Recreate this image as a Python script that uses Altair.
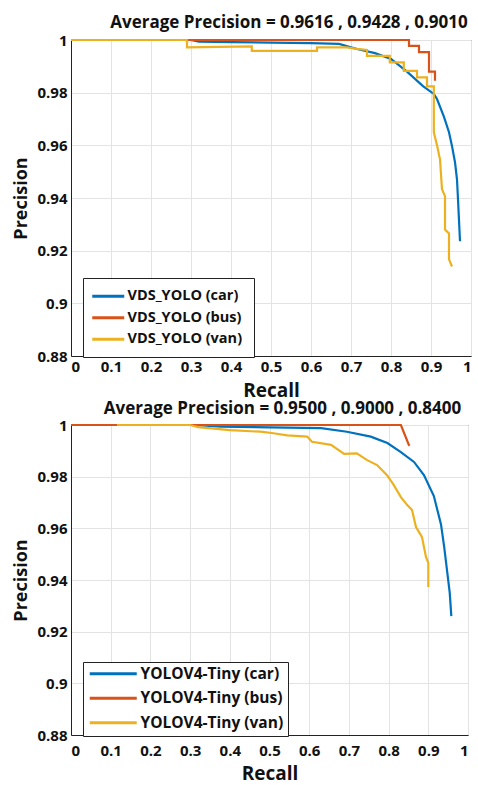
import altair as alt
import pandas as pd

FONT = "Open Sans"
COLORS = ["#0072BD", "#D95319", "#EDB120"]

# ---------------- top panel (VDS_YOLO) ----------------
top_names = ["VDS_YOLO (car)", "VDS_YOLO (bus)", "VDS_YOLO (van)"]
top_title = "Average Precision = 0.9616 , 0.9428 , 0.9010"

top_car_recall = [0.0, 0.30, 0.32, 0.40, 0.50, 0.60, 0.67, 0.715, 0.76, 0.80, 0.84, 0.88,
                  0.907, 0.915, 0.932, 0.945, 0.9525, 0.96, 0.965, 0.9675, 0.9725]
top_car_prec = [1.0, 1.0, 0.9994, 0.9992, 0.9990, 0.9988, 0.9985, 0.9966, 0.9950, 0.9928, 0.9880, 0.9825,
                0.9795, 0.9776, 0.9710, 0.9650, 0.9597, 0.9536, 0.9470, 0.9395, 0.9236]

top_bus_recall = [0.0, 0.845, 0.845, 0.87, 0.87, 0.895, 0.895, 0.91, 0.91]
top_bus_prec = [1.0, 1.0, 0.9978, 0.9978, 0.9954, 0.9954, 0.9880, 0.9880, 0.9845]

top_van_recall = [0.0, 0.29, 0.29, 0.452, 0.452, 0.615, 0.615, 0.69, 0.715, 0.74, 0.74, 0.797, 0.797,
                  0.832, 0.832, 0.865, 0.865, 0.89, 0.89, 0.907, 0.907, 0.915, 0.9225, 0.9275,
                  0.935, 0.935, 0.945, 0.945, 0.9525]
top_van_prec = [1.0, 1.0, 0.9972, 0.9976, 0.9959, 0.9959, 0.9972, 0.9972, 0.9966, 0.9962, 0.9940, 0.9940, 0.9915,
                0.9915, 0.9883, 0.9883, 0.9858, 0.9858, 0.9824, 0.9824, 0.9650, 0.9600, 0.9547, 0.9433,
                0.9407, 0.9280, 0.9265, 0.9167, 0.9140]

# ---------------- bottom panel (YOLOV4-Tiny) ----------------
bot_names = ["YOLOV4-Tiny (car)", "YOLOV4-Tiny (bus)", "YOLOV4-Tiny (van)"]
bot_title = "Average Precision =  0.9500 , 0.9000 , 0.8400"

bot_car_recall = [0.0, 0.31, 0.378, 0.50, 0.63, 0.695, 0.755, 0.797, 0.83, 0.864, 0.889, 0.914,
                  0.932, 0.94, 0.948, 0.954, 0.958]
bot_car_prec = [1.0, 1.0, 0.9994, 0.9991, 0.9988, 0.9974, 0.9955, 0.9930, 0.9896, 0.9857, 0.9806, 0.9725,
                0.9615, 0.9528, 0.9427, 0.9350, 0.9260]

bot_bus_recall = [0.0, 0.831, 0.839, 0.851, 0.853]
bot_bus_prec = [1.0, 1.0, 0.9969, 0.9923, 0.9920]

bot_van_recall = [0.116, 0.30, 0.32, 0.40, 0.478, 0.51, 0.545, 0.595, 0.607, 0.655, 0.688, 0.72,
                  0.746, 0.771, 0.796, 0.812, 0.831, 0.847, 0.859, 0.869, 0.884, 0.894, 0.90, 0.90]
bot_van_prec = [1.0, 1.0, 0.9992, 0.9980, 0.9974, 0.9968, 0.9960, 0.9955, 0.9935, 0.9923, 0.9888, 0.9890,
                0.9864, 0.9845, 0.9806, 0.9770, 0.9721, 0.9690, 0.9671, 0.9605, 0.9567, 0.9490, 0.9466, 0.9373]

x_ticks = [round(i * 0.1, 1) for i in range(11)]
y_ticks = [0.88, 0.90, 0.92, 0.94, 0.96, 0.98, 1.0]


def frame(names, series):
    rows = []
    for name, (rec, prec) in zip(names, series):
        for i, (r, p) in enumerate(zip(rec, prec)):
            rows.append({"series": name, "recall": r, "precision": p, "idx": i})
    return pd.DataFrame(rows)


def panel(df, names, title, dx, toff, width, height, leg, xlp, xtp):
    return alt.Chart(df).mark_line(strokeWidth=2.2).encode(
        x=alt.X("recall:Q", scale=alt.Scale(domain=[0, 1], nice=False),
                axis=alt.Axis(values=x_ticks, format=".1~f", title="Recall",
                              titleFontSize=19, titlePadding=xtp, labelPadding=xlp)),
        y=alt.Y("precision:Q", scale=alt.Scale(domain=[0.88, 1], nice=False, zero=False),
                axis=alt.Axis(values=y_ticks, format=".2~f", title="Precision",
                              titleFontSize=18, titlePadding=6, labelPadding=4)),
        color=alt.Color("series:N", sort=names,
                        scale=alt.Scale(domain=names, range=COLORS),
                        legend=alt.Legend(title=None, orient="none",
                                          legendX=leg["x"], legendY=leg["y"],
                                          symbolType=leg["path"], symbolSize=100,
                                          symbolOffset=leg["soff"],
                                          labelOffset=leg["loff"],
                                          symbolStrokeWidth=3, labelFontSize=leg["fs"],
                                          labelFont=FONT, labelFontWeight="bold",
                                          labelColor="#111",
                                          fillColor="white", strokeColor="#222",
                                          padding=leg["pad"], rowPadding=leg["rp"],
                                          labelLimit=300)),
        order="idx:Q",
    ).properties(
        width=width, height=height,
        title=alt.TitleParams(title, dx=dx, fontSize=17, font=FONT, fontWeight="bold",
                              offset=toff, anchor="middle", color="#111"),
    )


top_df = frame(top_names, [(top_car_recall, top_car_prec),
                           (top_bus_recall, top_bus_prec),
                           (top_van_recall, top_van_prec)])
bot_df = frame(bot_names, [(bot_car_recall, bot_car_prec),
                           (bot_bus_recall, bot_bus_prec),
                           (bot_van_recall, bot_van_prec)])

top = panel(top_df, top_names, top_title, 18, 1, 400, 316,
            {"x": 12, "y": 238, "path": "M-1,0H5.4", "soff": -4, "loff": 23,
             "fs": 14.5, "pad": 11, "rp": 6.5}, 3, 7)
bot = panel(bot_df, bot_names, bot_title, 13, 0, 397, 310,
            {"x": 12, "y": 237, "path": "M-1,0H8.4", "soff": 0, "loff": 38,
             "fs": 15.5, "pad": 4, "rp": 7.5}, 8, 6)

chart = alt.vconcat(top, bot, spacing=-2).resolve_scale(color="independent").resolve_legend(
    color="independent"
).configure(
    padding={"left": 12, "top": 13, "right": 2, "bottom": 0},
    background="white",
).configure_view(
    stroke="#555", strokeWidth=1
).configure_axis(
    labelFont=FONT, labelFontWeight="bold", labelFontSize=15, labelColor="#111",
    titleFont=FONT, titleFontWeight="bold", titleColor="#111",
    gridColor="#e3e3e3", gridWidth=1, domainColor="#222", domainWidth=1,
    ticks=False,
)

chart.save("out.html", embed_options={"renderer": "svg", "actions": False})
